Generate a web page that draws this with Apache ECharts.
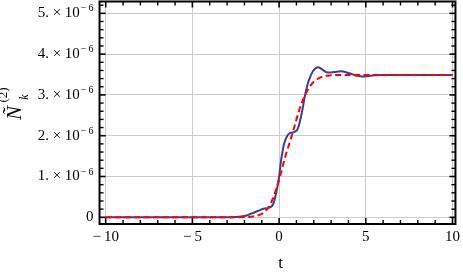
<!DOCTYPE html>
<html>
<head>
<meta charset="utf-8">
<script src="https://cdn.jsdelivr.net/npm/echarts@6/dist/echarts.min.js"></script>
<style>html,body{margin:0;padding:0;background:#fff;}#c{width:463px;height:278px;}</style>
</head>
<body>
<div id="c"></div>
<script>
// values in units of 1e-6
const tBlue = [-10, -5, -3, -2.5, -2, -1.6, -1.2, -0.9, -0.6, -0.4, -0.25, -0.1, 0, 0.1, 0.2, 0.3, 0.45, 0.6, 0.8, 1.0, 1.1, 1.2, 1.35, 1.5, 1.65, 1.8, 1.95, 2.1, 2.25, 2.4, 2.6, 2.8, 3.0, 3.3, 3.6, 3.9, 4.2, 4.5, 4.8, 5.1, 5.5, 6, 7, 10];
const vBlue = [0, 0, 0, 0.005, 0.03, 0.09, 0.16, 0.21, 0.23, 0.28, 0.45, 0.75, 1.0, 1.35, 1.62, 1.82, 1.98, 2.06, 2.08, 2.12, 2.2, 2.35, 2.65, 3.0, 3.27, 3.45, 3.58, 3.65, 3.68, 3.65, 3.59, 3.55, 3.55, 3.57, 3.58, 3.55, 3.51, 3.47, 3.45, 3.46, 3.48, 3.49, 3.49, 3.49];
const tRed = [-10, -5, -3, -2, -1.5, -1.2, -0.9, -0.6, -0.4, -0.2, 0, 0.2, 0.4, 0.6, 0.8, 1.0, 1.2, 1.4, 1.6, 1.8, 2.0, 2.3, 2.6, 3.0, 3.5, 5, 10];
const vRed = [0, 0, 0, 0.005, 0.02, 0.05, 0.11, 0.25, 0.42, 0.65, 0.92, 1.24, 1.55, 1.82, 2.1, 2.4, 2.68, 2.9, 3.08, 3.22, 3.32, 3.41, 3.46, 3.48, 3.49, 3.49, 3.49];
const xTickValues = [-10, -5, 0, 5, 10];
const xMinorTicks = [-9, -8, -7, -6, -4, -3, -2, -1, 1, 2, 3, 4, 6, 7, 8, 9];
const yTickValues = [0, 1, 2, 3, 4, 5];
const yMinorTicks = [0.2, 0.4, 0.6, 0.8, 1.2, 1.4, 1.6, 1.8, 2.2, 2.4, 2.6, 2.8, 3.2, 3.4, 3.6, 3.8, 4.2, 4.4, 4.6, 4.8, 5.2];
const xFrame = [-10.356, 10.17];
const yFrame = [-0.164, 5.29];
const yExponent = '−\u20096';

const serif = '"Liberation Serif", "DejaVu Serif", serif';
const chart = echarts.init(document.getElementById('c'), null, {renderer: 'canvas'});

function xFmt(v) {
  if (!xTickValues.some(t => Math.abs(t - v) < 1e-9)) return '';
  return v < 0 ? '−\u2009' + Math.abs(v) : String(v);
}
function yFmt(v) {
  if (!yTickValues.some(t => Math.abs(t - v) < 1e-9)) return '';
  if (Math.abs(v) < 1e-9) return '{a|0}';
  return '{a|' + Math.round(v) + '. × 10}{s|' + yExponent + '}';
}

function frameRender(params, api) {
  const P = (x, y) => api.coord([x, y]);
  const snap = v => Math.round(v - 0.5) + 0.5;
  const xl = P(xFrame[0], 0)[0], xr = P(xFrame[1], 0)[0];
  const yb = P(0, yFrame[0])[1], yt = P(0, yFrame[1])[1];
  const kids = [];
  const seg = (x1, y1, x2, y2, stroke, w, z2) => kids.push({type: 'line', z2: z2, shape: {x1, y1, x2, y2}, style: {stroke, lineWidth: w, fill: 'none'}});
  xTickValues.forEach(v => { const x = snap(P(v, 0)[0]); seg(x, yt, x, yb, '#cccccc', 1, 1); });
  yTickValues.forEach(v => { const y = snap(P(0, v)[1]); seg(xl, y, xr, y, '#cccccc', 1, 1); });
  const tick = (list, len, w) => {
    list.forEach(v => { const x = P(v, 0)[0]; seg(x, yb, x, yb - len, '#000', w, 5); seg(x, yt, x, yt + len, '#000', w, 5); });
  };
  const ytick = (list, len, w) => {
    list.forEach(v => { const y = P(0, v)[1]; seg(xl, y, xl + len, y, '#000', w, 5); seg(xr, y, xr - len, y, '#000', w, 5); });
  };
  tick(xTickValues, 6, 1.6); tick(xMinorTicks, 4, 1.4);
  ytick(yTickValues, 6, 1.6); ytick(yMinorTicks, 4, 1.4);
  kids.push({type: 'rect', z2: 6, shape: {x: xl, y: yt, width: xr - xl, height: yb - yt}, style: {fill: 'none', stroke: '#000', lineWidth: 2}});
  return {type: 'group', children: kids};
}

chart.setOption({
  animation: false,
  backgroundColor: '#fff',
  grid: [{left: 105.7, right: 5.7, top: 1.5, bottom: 60.7}],
  xAxis: [{
    type: 'value', min: -10, max: 10.17, interval: 5, position: 'bottom', offset: 6.7,
    axisLine: {show: false, onZero: false}, axisTick: {show: false}, splitLine: {show: false},
    axisLabel: {margin: 6, fontFamily: serif, fontSize: 15, color: '#000', formatter: xFmt},
    name: 't', nameLocation: 'middle', nameGap: 31,
    nameTextStyle: {fontFamily: serif, fontSize: 17, color: '#000'}
  }],
  yAxis: [{
    type: 'value', min: 0, max: 5.29, interval: 1, position: 'left', offset: 6.2,
    axisLine: {show: false, onZero: false}, axisTick: {show: false}, splitLine: {show: false},
    axisLabel: {
      margin: 6, color: '#000', formatter: yFmt,
      rich: {
        a: {fontFamily: serif, fontSize: 15, color: '#000', lineHeight: 18},
        s: {fontFamily: serif, fontSize: 10, color: '#000', lineHeight: 18, padding: [0, 0, 9, 1]}
      }
    }
  }],
  graphic: [
    {type: 'group', x: 15, y: 113, rotation: Math.PI / 2, children: [
      {type: 'text', x: 0, y: 0, style: {text: 'Ñ', font: 'italic 21px ' + serif, fill: '#000', align: 'center', verticalAlign: 'middle'}},
      {type: 'text', x: 18, y: -11, style: {text: '(2)', font: '13px ' + serif, fill: '#000', align: 'center', verticalAlign: 'middle'}},
      {type: 'text', x: 16, y: 10, style: {text: 'k', font: 'italic 12px ' + serif, fill: '#000', align: 'center', verticalAlign: 'middle'}}
    ]}
  ],
  series: [
    {
      type: 'custom', renderItem: frameRender, data: [[0, 0]], clip: false, silent: true, z: 1
    },
    {
      type: 'line', xAxisIndex: 0, yAxisIndex: 0, data: tBlue.map((t, i) => [t, vBlue[i]]),
      smooth: 0.35, showSymbol: false, clip: false, z: 3,
      lineStyle: {color: '#3d3d99', width: 2}
    },
    {
      type: 'line', xAxisIndex: 0, yAxisIndex: 0, data: tRed.map((t, i) => [t, vRed[i]]),
      smooth: 0.35, showSymbol: false, clip: false, z: 4,
      lineStyle: {color: '#ff0000', width: 2, type: [6, 3.5]}
    }
  ]
});
</script>
</body>
</html>
